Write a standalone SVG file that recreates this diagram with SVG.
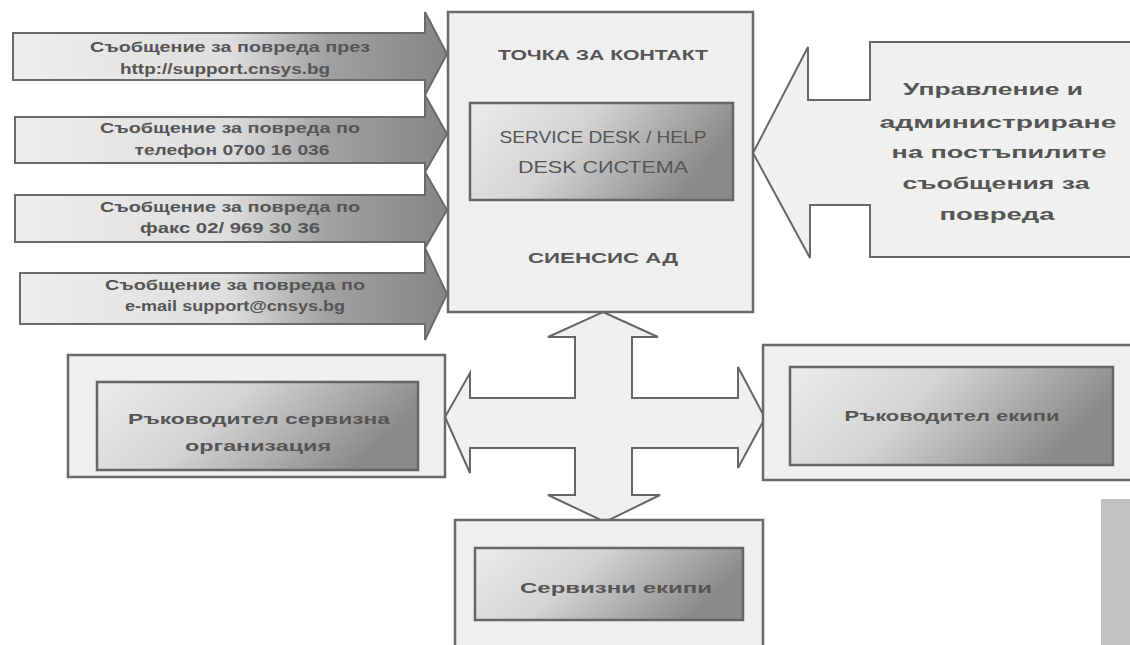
<svg xmlns="http://www.w3.org/2000/svg" width="1130" height="645" viewBox="0 0 1130 645">
  <defs>
    <linearGradient id="gArrow" gradientUnits="userSpaceOnUse" x1="13" y1="0" x2="447" y2="0">
      <stop offset="0" stop-color="#eeeeee"/>
      <stop offset="0.5" stop-color="#dedede"/>
      <stop offset="0.72" stop-color="#a2a2a2"/>
      <stop offset="1" stop-color="#858585"/>
    </linearGradient>
    <linearGradient id="gInner" x1="0" y1="0" x2="1" y2="0.3">
      <stop offset="0" stop-color="#ececec"/>
      <stop offset="0.45" stop-color="#d4d4d4"/>
      <stop offset="1" stop-color="#8a8a8a"/>
    </linearGradient>
    <style>
      .arrow { fill: url(#gArrow); stroke: #6a6a6a; stroke-width: 2; stroke-linejoin: miter; }
      .outer { fill: #efefef; stroke: #6a6a6a; stroke-width: 2.5; }
      .inner { fill: url(#gInner); stroke: #666666; stroke-width: 2.5; }
      .conn { fill: #f0f0f0; stroke: #666666; stroke-width: 2; stroke-linejoin: miter; }
      text { font-family: "Liberation Sans", Arial, sans-serif; fill: #555555; text-anchor: middle; }
      .at { font-size: 14px; font-weight: bold; }
      .title { font-size: 15px; font-weight: bold; }
      .sd { font-size: 17px; }
      .call { font-size: 17px; font-weight: bold; }
      .lbl { font-size: 15px; font-weight: bold; }
    </style>
  </defs>

  <g id="connectors">
    <path class="conn" d="M603,312 L658,337 L632,337 L632,398 L738,398 L738,367 L765,418 L738,468 L738,448 L632,448 L632,495 L660,495 L605,522 L548,495 L575,495 L575,448 L470,448 L470,473 L445,417 L470,373 L470,398 L575,398 L575,337 L548,337 Z"/>
  </g>

  <g id="arrow1">
    <path class="arrow" d="M13,33 L425,33 L425,12 L447,54 L425,95 L425,80 L13,80 Z"/>
    <text class="at" x="230" y="52" textLength="280" lengthAdjust="spacingAndGlyphs">Съобщение за повреда през</text>
    <text class="at" x="225" y="74" textLength="210" lengthAdjust="spacingAndGlyphs">http://support.cnsys.bg</text>
  </g>
  <g id="arrow2">
    <path class="arrow" d="M15,117 L425,117 L425,95 L447,134 L425,172 L425,163 L15,163 Z"/>
    <text class="at" x="230" y="133" textLength="260" lengthAdjust="spacingAndGlyphs">Съобщение за повреда по</text>
    <text class="at" x="232" y="155" textLength="195" lengthAdjust="spacingAndGlyphs">телефон 0700 16 036</text>
  </g>
  <g id="arrow3">
    <path class="arrow" d="M15,195 L425,195 L425,172 L447,210 L425,248 L425,242 L15,242 Z"/>
    <text class="at" x="230" y="212" textLength="260" lengthAdjust="spacingAndGlyphs">Съобщение за повреда по</text>
    <text class="at" x="230" y="233" textLength="180" lengthAdjust="spacingAndGlyphs">факс 02/ 969 30 36</text>
  </g>
  <g id="arrow4">
    <path class="arrow" d="M20,273 L425,273 L425,248 L447,294 L425,340 L425,324 L20,324 Z"/>
    <text class="at" x="235" y="290" textLength="260" lengthAdjust="spacingAndGlyphs">Съобщение за повреда по</text>
    <text class="at" x="235" y="311" textLength="220" lengthAdjust="spacingAndGlyphs">e-mail support@cnsys.bg</text>
  </g>

  <g id="contact">
    <rect class="outer" x="448" y="12" width="305" height="300"/>
    <text class="title" x="603" y="60" textLength="210" lengthAdjust="spacingAndGlyphs">ТОЧКА ЗА КОНТАКТ</text>
    <rect class="inner" x="470" y="103" width="263" height="97"/>
    <text class="sd" x="603" y="143" textLength="207" lengthAdjust="spacingAndGlyphs">SERVICE DESK / HELP</text>
    <text class="sd" x="603" y="173" textLength="170" lengthAdjust="spacingAndGlyphs">DESK СИСТЕМА</text>
    <text class="title" x="603" y="263" textLength="150" lengthAdjust="spacingAndGlyphs">СИЕНСИС АД</text>
  </g>

  <g id="management">
    <path class="conn" d="M753,153 L808,47 L808,100 L870,100 L870,42 L1135,42 L1135,257 L870,257 L870,205 L810,205 L810,258 Z"/>
    <text class="call" x="993" y="95" textLength="180" lengthAdjust="spacingAndGlyphs">Управление и</text>
    <text class="call" x="998" y="128" textLength="237" lengthAdjust="spacingAndGlyphs">администриране</text>
    <text class="call" x="999" y="158" textLength="215" lengthAdjust="spacingAndGlyphs">на постъпилите</text>
    <text class="call" x="996" y="189" textLength="187" lengthAdjust="spacingAndGlyphs">съобщения за</text>
    <text class="call" x="997" y="220" textLength="115" lengthAdjust="spacingAndGlyphs">повреда</text>
  </g>

  <g id="service-manager">
    <rect class="outer" x="68" y="355" width="377" height="122"/>
    <rect class="inner" x="97" y="382" width="321" height="88"/>
    <text class="lbl" x="259" y="424" textLength="262" lengthAdjust="spacingAndGlyphs">Ръководител сервизна</text>
    <text class="lbl" x="258" y="451" textLength="146" lengthAdjust="spacingAndGlyphs">организация</text>
  </g>

  <g id="team-manager">
    <rect class="outer" x="763" y="345" width="372" height="135"/>
    <rect class="inner" x="790" y="367" width="323" height="98"/>
    <text class="lbl" x="952" y="421" textLength="215" lengthAdjust="spacingAndGlyphs">Ръководител екипи</text>
  </g>

  <g id="service-teams">
    <rect class="outer" x="455" y="520" width="308" height="135"/>
    <rect class="inner" x="475" y="548" width="268" height="72"/>
    <text class="lbl" x="616" y="593" textLength="192" lengthAdjust="spacingAndGlyphs">Сервизни екипи</text>
  </g>

  <rect id="side-bar" x="1101" y="499" width="29" height="146" fill="#c2c2c2"/>
</svg>
